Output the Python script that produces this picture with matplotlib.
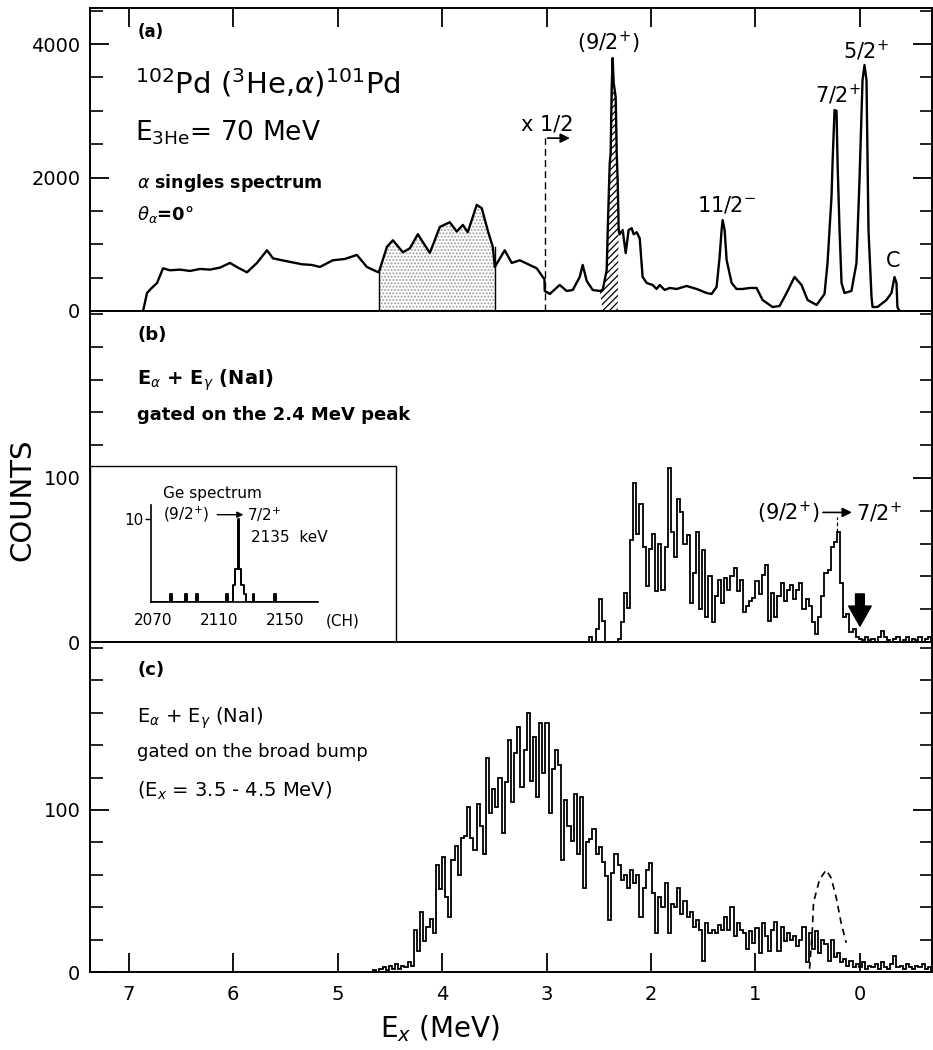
import numpy as np
import matplotlib
matplotlib.use('Agg')
import matplotlib.pyplot as plt
from matplotlib.patches import Rectangle
from matplotlib.ticker import FixedLocator, MultipleLocator

plt.rcParams['font.family'] = ['DejaVu Sans']
plt.rcParams['mathtext.fontset'] = 'dejavusans'
plt.rcParams['hatch.linewidth'] = 0.9

# ---------------- Panel (a): alpha singles spectrum ----------------
a_energy = [6.862, 6.824, 6.776, 6.728, 6.671, 6.604, 6.508, 6.413, 6.317, 6.221,
            6.126, 6.030, 5.954, 5.867, 5.772, 5.676, 5.619, 5.533, 5.437, 5.341,
            5.246, 5.169, 5.045, 4.930, 4.815, 4.720, 4.624, 4.605, 4.528, 4.471,
            4.375, 4.308, 4.232, 4.117, 4.021, 3.926, 3.859, 3.801, 3.754, 3.668,
            3.620, 3.563, 3.514, 3.495, 3.400, 3.333, 3.256, 3.161, 3.094, 3.036,
            3.020, 3.017, 2.969, 2.874, 2.807, 2.749, 2.682, 2.654, 2.615, 2.558,
            2.491, 2.462, 2.424, 2.414, 2.395, 2.386, 2.376, 2.367, 2.357, 2.338,
            2.328, 2.319, 2.309, 2.300, 2.271, 2.242, 2.214, 2.185, 2.166, 2.137,
            2.108, 2.080, 2.041, 1.984, 1.946, 1.917, 1.869, 1.822, 1.754, 1.659,
            1.563, 1.468, 1.420, 1.372, 1.343, 1.324, 1.314, 1.295, 1.276, 1.228,
            1.181, 1.123, 1.056, 0.989, 0.932, 0.836, 0.769, 0.702, 0.626, 0.559,
            0.501, 0.415, 0.339, 0.310, 0.272, 0.262, 0.243, 0.224, 0.214, 0.195,
            0.176, 0.148, 0.081, 0.033, 0.004, -0.015, -0.025, -0.044, -0.063, -0.073,
            -0.082, -0.111, -0.121, -0.168, -0.254, -0.302, -0.331, -0.350, -0.359, -0.379]
a_counts = [0, 270, 350, 420, 640, 610, 620, 600, 630, 620,
            650, 720, 650, 580, 720, 910, 790, 760, 730, 700,
            690, 660, 760, 780, 840, 660, 590, 580, 960, 1060,
            880, 940, 1150, 870, 1260, 1330, 1190, 1290, 1180, 1590,
            1540, 1210, 960, 660, 910, 720, 760, 690, 640, 510,
            480, 300, 255, 390, 300, 315, 510, 690, 450, 315,
            300, 315, 614, 1213, 2217, 2367, 3340, 3790, 3415, 3206,
            2367, 1962, 1213, 1150, 1213, 869, 1213, 1240, 1150, 1180,
            1090, 510, 420, 390, 330, 390, 315, 345, 330, 375,
            330, 270, 255, 360, 810, 1213, 1363, 1213, 764, 420,
            330, 330, 345, 345, 165, 60, 75, 270, 510, 390,
            165, 90, 255, 720, 1710, 2217, 3010, 3000, 2217, 1213,
            420, 270, 300, 720, 1962, 2966, 3460, 3685, 3460, 2217,
            1213, 210, 60, 60, 165, 270, 510, 420, 60, 0]
bump_range = (3.495, 4.605)      # stippled region (Ex = 3.5-4.5 MeV)
peak_gate_range = (2.319, 2.462)  # hatched 2.4 MeV peak
half_scale_energy = 3.017
a_labels = ['(9/2$^{+}$)', '11/2$^{-}$', '7/2$^{+}$', '5/2$^{+}$', 'C']
a_label_energy = [2.405, 1.276, 0.214, -0.053, -0.321]
a_label_counts = [4015, 1588, 3236, 3895, 749]

# ---------------- Panel (b): gated on the 2.4 MeV peak ----------------
b_start, b_width = 2.59, 0.03
b_counts = [3, 0, 8, 26, 13, 0, 0, 0, 0, 2,
            12, 30, 21, 62, 97, 66, 84, 58, 34, 57,
            66, 31, 60, 32, 58, 106, 67, 52, 87, 79,
            60, 65, 24, 42, 67, 20, 56, 15, 40, 12,
            28, 38, 24, 39, 32, 40, 45, 31, 38, 18,
            22, 25, 27, 37, 29, 41, 47, 13, 30, 15,
            28, 36, 25, 32, 35, 26, 32, 36, 20, 26,
            22, 12, 5, 15, 28, 42, 44, 58, 61, 67,
            36, 15, 17, 6, 8, 3, 2, 1, 3, 1,
            2, 0, 3, 7, 3, 1, 0, 2, 3, 0,
            1, 3, 0, 2, 1, 3, 0, 2, 3]

# inset Ge spectrum
ge_channels = list(range(2070, 2171))
ge_nonzero = {2081: 1, 2090: 1, 2097: 1, 2115: 1, 2119: 2, 2120: 4, 2121: 4,
              2122: 10, 2123: 4, 2124: 2, 2125: 2, 2126: 1, 2131: 1, 2144: 1}
ge_counts = [ge_nonzero.get(c, 0) for c in ge_channels]

# ---------------- Panel (c): gated on the broad bump ----------------
c_start, c_width = 4.66, 0.03
c_counts = [1, 0, 2, 3, 1, 4, 2, 5, 2, 4,
            3, 6, 4, 26, 13, 37, 19, 28, 33, 24,
            66, 51, 71, 46, 34, 69, 78, 60, 83, 84,
            102, 83, 75, 104, 90, 73, 132, 98, 113, 102,
            120, 86, 117, 143, 105, 135, 151, 114, 137, 160,
            118, 145, 108, 154, 123, 154, 98, 125, 137, 128,
            69, 106, 90, 81, 110, 73, 108, 52, 80, 82,
            88, 73, 77, 68, 59, 32, 61, 73, 66, 57,
            60, 52, 63, 55, 60, 34, 52, 63, 67, 49,
            24, 46, 40, 55, 24, 42, 40, 52, 36, 44,
            34, 37, 28, 32, 26, 7, 30, 24, 26, 24,
            29, 26, 34, 26, 40, 22, 30, 26, 24, 14,
            25, 18, 27, 12, 30, 22, 13, 26, 31, 13,
            28, 19, 24, 20, 22, 16, 20, 28, 6, 24,
            14, 25, 12, 20, 17, 7, 20, 9, 12, 6,
            8, 4, 7, 3, 5, 3, 6, 2, 4, 3,
            5, 2, 6, 3, 2, 5, 10, 3, 4, 2,
            5, 3, 2, 4, 3, 5, 2, 3]
c_dash_energy = [0.482, 0.457, 0.444, 0.387, 0.323, 0.275, 0.227, 0.179, 0.131]
c_dash_counts = [2, 24, 43, 57, 63, 58, 46, 30, 18]

XLIM = (7.37, -0.69)

fig = plt.figure(figsize=(9.33, 10.5), dpi=100)
L, W = 90 / 933, 842 / 933
yA0, yA1 = 1 - 311 / 1050, 1 - 8 / 1050
yB0 = 1 - 642 / 1050
yC0 = 1 - 972 / 1050
axA = fig.add_axes([L, yA0, W, yA1 - yA0])
axB = fig.add_axes([L, yB0, W, yA0 - yB0])
axC = fig.add_axes([L, yC0, W, yB0 - yC0])


def style(ax, ymax, majors, labels, minor, top=False, bottom=False):
    ax.set_xlim(*XLIM)
    ax.set_ylim(0, ymax)
    ax.yaxis.set_major_locator(FixedLocator(majors))
    ax.set_yticklabels(labels)
    ax.yaxis.set_minor_locator(MultipleLocator(minor))
    ax.tick_params(axis='y', which='major', direction='in', length=14, width=1.3,
                   left=True, right=True, labelsize=14, pad=7)
    ax.tick_params(axis='y', which='minor', direction='in', length=9, width=1.2,
                   left=True, right=True)
    ax.xaxis.set_major_locator(MultipleLocator(1))
    ax.xaxis.set_minor_locator(plt.NullLocator())
    ax.tick_params(axis='x', which='major', direction='in', length=14, width=1.3,
                   top=top, bottom=bottom, labeltop=False, labelbottom=bottom,
                   labelsize=14, pad=9)
    for s in ax.spines.values():
        s.set_linewidth(1.4)


style(axA, 4540, [0, 2000, 4000], ['0', '2000', '4000'], 500, top=True)
style(axB, 201.8, [0, 100], ['0', '100'], 20)
style(axC, 203.7, [0, 100], ['0', '100'], 20, bottom=True)
axC.set_xticklabels([str(int(round(t))) for t in axC.get_xticks()])

# ---- panel (a)
ea = np.array(a_energy)
ca = np.array(a_counts)
axA.fill_between(ea, ca, where=(ea >= bump_range[0]) & (ea <= bump_range[1]),
                 facecolor='white', edgecolor='#9a9a9a', hatch='.....', linewidth=0,
                 interpolate=True)
axA.fill_between(ea, ca, where=(ea >= peak_gate_range[0]) & (ea <= peak_gate_range[1]),
                 facecolor='white', edgecolor='black', hatch='/////', linewidth=0,
                 interpolate=True)
axA.plot([bump_range[0], bump_range[0]], [0, 960], color='k', lw=1.0)
axA.plot([bump_range[1], bump_range[1]], [0, 580], color='k', lw=1.0)
axA.plot(ea, ca, color='black', lw=1.7)
axA.plot([half_scale_energy, half_scale_energy], [0, 2590], color='k', lw=1.0,
         ls=(0, (5, 3)))
axA.annotate('', xy=(2.75, 2590), xytext=(half_scale_energy, 2590),
             arrowprops=dict(arrowstyle='-|>', color='k', lw=1.2, mutation_scale=14))
axA.text(2.99, 2800, 'x 1/2', fontsize=15, ha='center', va='center')
for lab, xe, yc in zip(a_labels, a_label_energy, a_label_counts):
    axA.text(xe, yc, lab, fontsize=15, ha='center', va='center')

axA.text(0.056, 0.921, '(a)', transform=axA.transAxes, fontsize=12, fontweight='bold',
         va='center', ha='left')
axA.text(0.053, 0.719, r'$^{102}$Pd ($^{3}$He,$\alpha$)$^{101}$Pd',
         transform=axA.transAxes, fontsize=21, va='baseline', ha='left')
axA.text(0.053, 0.564, r'E$_{3\mathrm{He}}$= 70 MeV', transform=axA.transAxes,
         fontsize=19, va='baseline', ha='left')
axA.text(0.056, 0.406, r'$\alpha$ singles spectrum', transform=axA.transAxes,
         fontsize=12.5, fontweight='bold', va='baseline', ha='left')
axA.text(0.056, 0.300, r'$\theta_\alpha$=0°', transform=axA.transAxes,
         fontsize=13, fontweight='bold', va='baseline', ha='left')

# ---- panel (b)
b_edges = b_start - b_width * np.arange(len(b_counts) + 1)
axB.stairs(b_counts, b_edges, color='black', lw=1.3, baseline=0)
axB.text(0.387, 79, '(9/2$^{+}$)', fontsize=15, ha='right', va='center')
axB.annotate('', xy=(0.05, 79), xytext=(0.38, 79),
             arrowprops=dict(arrowstyle='-|>', color='k', lw=1.2, mutation_scale=14))
axB.text(0.042, 79, '7/2$^{+}$', fontsize=15, ha='left', va='center')
axB.plot([0.224, 0.224], [67, 76], color='k', lw=0.9, ls=(0, (3, 2)))
axB.annotate('', xy=(0.0, 8), xytext=(0.0, 31),
             arrowprops=dict(arrowstyle='simple,head_width=0.9,head_length=0.8,tail_width=0.35',
                             fc='k', ec='k', mutation_scale=18))
axB.text(0.056, 0.927, '(b)', transform=axB.transAxes, fontsize=13, fontweight='bold',
         va='center', ha='left')
axB.text(0.056, 0.776, r'E$_\alpha$ + E$_\gamma$ (NaI)', transform=axB.transAxes,
         fontsize=14, fontweight='bold', va='baseline', ha='left')
axB.text(0.056, 0.671, 'gated on the 2.4 MeV peak', transform=axB.transAxes,
         fontsize=13, fontweight='bold', va='baseline', ha='left')

# inset box
axB.add_patch(Rectangle((0, 0), (396 - 90) / 842, (642 - 466) / 331,
                        transform=axB.transAxes, facecolor='white', edgecolor='black',
                        lw=1.0, zorder=5))
axI = fig.add_axes([151 / 933, 1 - 602 / 1050, (318 - 151) / 933, (602 - 505) / 1050])
axI.set_zorder(10)
axI.patch.set_alpha(0)
axI.step(ge_channels, ge_counts, where='mid', color='black', lw=1.4)
axI.set_xlim(2069, 2170)
axI.set_ylim(0, 11.7)
axI.spines['top'].set_visible(False)
axI.spines['right'].set_visible(False)
for s in ('left', 'bottom'):
    axI.spines[s].set_linewidth(1.2)
axI.set_xticks([2070, 2110, 2150])
axI.set_yticks([10])
axI.tick_params(axis='x', length=0, labelsize=11, pad=8)
axI.tick_params(axis='y', length=4, width=1.0, direction='out', labelsize=11, pad=1)
axI.text(1.15, -0.12, '(CH)', transform=axI.transAxes, fontsize=11, ha='center',
         va='top')
axI.text(0.07, 1.12, 'Ge spectrum', transform=axI.transAxes, fontsize=11,
         ha='left', va='center')
axI.text(0.07, 0.90, '(9/2$^{+}$)', transform=axI.transAxes, fontsize=11,
         ha='left', va='center')
axI.annotate('', xy=(0.57, 0.90), xytext=(0.38, 0.90), xycoords='axes fraction',
             textcoords='axes fraction',
             arrowprops=dict(arrowstyle='-|>', color='k', lw=1.0, mutation_scale=9))
axI.text(0.575, 0.90, '7/2$^{+}$', transform=axI.transAxes, fontsize=11,
         ha='left', va='center')
axI.text(0.60, 0.66, '2135  keV', transform=axI.transAxes, fontsize=11,
         ha='left', va='center')

# ---- panel (c)
c_edges = c_start - c_width * np.arange(len(c_counts) + 1)
axC.stairs(c_counts, c_edges, color='black', lw=1.3, baseline=0)
axC.plot(c_dash_energy, c_dash_counts, color='black', lw=1.2, ls=(0, (4, 3)))
axC.text(0.056, 0.915, '(c)', transform=axC.transAxes, fontsize=13, fontweight='bold',
         va='center', ha='left')
axC.text(0.056, 0.755, r'E$_\alpha$ + E$_\gamma$ (NaI)', transform=axC.transAxes,
         fontsize=14, va='baseline', ha='left')
axC.text(0.056, 0.652, 'gated on the broad bump', transform=axC.transAxes,
         fontsize=13, va='baseline', ha='left')
axC.text(0.056, 0.530, r'(E$_x$ = 3.5 - 4.5 MeV)', transform=axC.transAxes,
         fontsize=14, va='baseline', ha='left')

fig.text(22 / 933, 1 - 500 / 1050, 'COUNTS', rotation=90, fontsize=21,
         ha='center', va='center')
fig.text(440 / 933, 0.012, r'E$_x$ (MeV)', fontsize=20, ha='center', va='baseline')

fig.savefig('out.png', dpi=100)
